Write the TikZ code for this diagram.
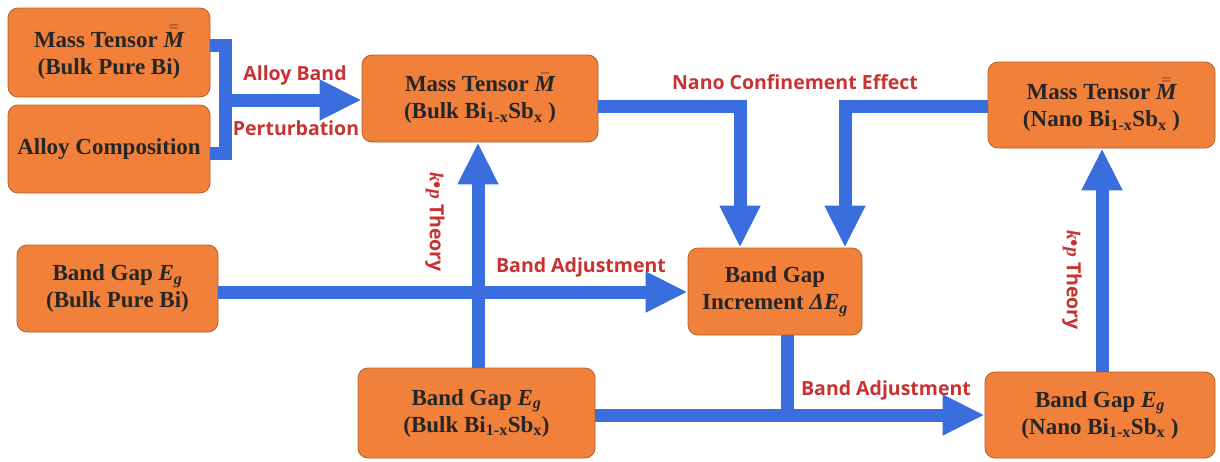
\documentclass[tikz,border=0pt]{standalone}
\usepackage{amsmath}
\usepackage{fontspec}
\setmainfont{Liberation Serif}
\newfontfamily\lblfont{Open Sans}
\usetikzlibrary{arrows.meta}
\definecolor{boxfill}{RGB}{240,128,58}
\definecolor{boxedge}{RGB}{180,95,40}
\definecolor{flowblue}{RGB}{58,110,222}
\definecolor{lblred}{RGB}{200,50,48}
% bold italic serif symbols set in the running text font
\newcommand{\tensorMM}{$\bar{\bar{\text{\itshape M}}}$}
\newcommand{\tensorMo}{$\bar{\text{\itshape M}}$}
\newcommand{\gapE}{\textit{E}$_{\text{\itshape g}}$}
\newcommand{\alloysub}{Bi$_{\text{1-x}}$Sb$_{\text{x}}$}
\newcommand{\kp}{{\fontspec{Liberation Serif}\bfseries\itshape k}\textbullet{\fontspec{Liberation Serif}\bfseries\itshape p}}
\begin{document}
\begin{tikzpicture}[x=1pt,y=-1pt,
  block/.style={draw=boxedge,line width=0.8pt,fill=boxfill,rounded corners=10pt,
    align=center,font=\fontsize{23}{27}\selectfont\bfseries,text=black!85,inner sep=0pt},
  flow/.style={draw=flowblue,line width=13pt,line join=miter},
  flowarrow/.style={flow,-{Triangle[length=42pt,width=38pt]}},
  lbl/.style={text=lblred,font=\lblfont\fontsize{19.5}{22}\selectfont\bfseries,inner sep=0pt}]
\useasboundingbox (0,0) rectangle (1220,461);

% blocks
\node[block,minimum width=202pt,minimum height=89pt] (mbulkbi) at (109,52.5)
  {Mass Tensor \tensorMM\\(Bulk Pure Bi)};
\node[block,minimum width=202pt,minimum height=88pt] (alloy) at (109,149)
  {Alloy Composition};
\node[block,minimum width=236pt,minimum height=87pt] (mbulk) at (480,98.5)
  {Mass Tensor \tensorMo\\(Bulk \alloysub\ )};
\node[block,minimum width=227pt,minimum height=86pt] (mnano) at (1101.5,105)
  {Mass Tensor \tensorMM\\(Nano \alloysub\ )};
\node[block,minimum width=174pt,minimum height=87pt] (inc) at (775,291.5)
  {Band Gap\\Increment \textit{ΔE}$_{\text{\itshape g}}$};
\node[block,minimum width=237pt,minimum height=90pt] (gbulk) at (476.5,413)
  {Band Gap \gapE\\(Bulk \alloysub)};
\node[block,minimum width=230pt,minimum height=86pt] (gnano) at (1100,415)
  {Band Gap \gapE\\(Nano \alloysub\ )};
\node[block,minimum width=201pt,minimum height=87pt] (gbulkbi) at (117.5,288.5)
  {Band Gap \gapE\\(Bulk Pure Bi)};

% merge points
\coordinate (jl) at (225,100);
\coordinate (jb) at (787,415);

% connectors
\draw[flow] (mbulkbi.east |- 0,45) -| (225,153) -- (alloy.east |- 0,153);
\draw[flowarrow] (jl) -- (mbulk.west |- jl);
\draw[flowarrow] (mbulk.east |- 0,106) -| (inc.north -| 740,0);
\draw[flowarrow] (mnano.west |- 0,106) -| (inc.north -| 845,0);
\draw[flowarrow] (gbulkbi.east |- 0,292) -- (inc.west |- 0,292);
\draw[flowarrow] (gbulk.north -| 478,0) -- (mbulk.south -| 478,0);
\draw[flowarrow] (gbulk.east |- jb) -- (gnano.west |- jb);
\draw[flow] (inc.south -| jb) -- ([yshift=-6.5pt]jb);
\draw[flowarrow] (gnano.north -| 1102,0) -- (mnano.south -| 1102,0);

% labels
\node[lbl] (l1) at (295,75) {Alloy Band};
\node[lbl] (l2) at (296,128) {Perturbation};
\node[lbl] (l3) at (795,82) {Nano Confinement Effect};
\node[lbl] (l4) at (581,267) {Band Adjustment};
\node[lbl] (l5) at (886,390) {Band Adjustment};
\node[lbl,rotate=-90] (l6) at (435,222) {\kp\ Theory};
\node[lbl,rotate=-90] (l7) at (1072,280) {\kp\ Theory};
\end{tikzpicture}
\end{document}
